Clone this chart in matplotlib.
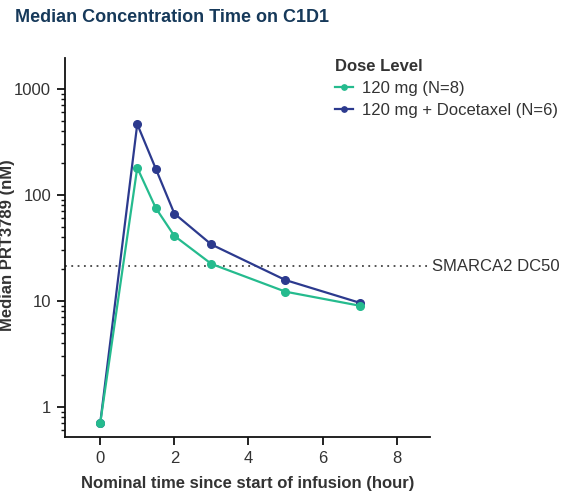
import matplotlib
matplotlib.use("Agg")
import matplotlib.pyplot as plt
from matplotlib.ticker import LogLocator, FixedLocator, NullFormatter

plt.rcParams['font.family'] = ['Liberation Sans', 'DejaVu Sans']

time_mono = [0, 1, 1.5, 2, 3, 5, 7]
conc_mono = [0.7, 180, 75, 41, 22.3, 12.2, 9.0]
time_combo = [0, 1, 1.5, 2, 3, 5, 7]
conc_combo = [0.7, 464, 176, 66.6, 34, 15.7, 9.6]
dc50 = 21.1
labels = ["120 mg (N=8)", "120 mg + Docetaxel (N=6)"]
x_ticks = [0, 2, 4, 6, 8]
y_ticks = [1, 10, 100, 1000]

green = "#25bb8e"
blue = "#2c3a8e"
txt = "#333333"

fig = plt.figure(figsize=(5.61, 4.92), dpi=100)
ax = fig.add_axes([65/561, 1-437/492, (430-65)/561, (437-58)/492])

ax.plot(time_combo, conc_combo, '-o', color=blue, lw=1.6, ms=5.5, label=labels[1], zorder=3)
ax.plot(time_mono, conc_mono, '-o', color=green, lw=1.6, ms=5.5, label=labels[0], zorder=4)
ax.axhline(dc50, color="#444444", ls=(0, (1, 2.5)), lw=1.3, zorder=1)
ax.text(1.005, dc50, "SMARCA2 DC50", transform=ax.get_yaxis_transform(),
        va='center', ha='left', fontsize=12, color=txt, clip_on=False)

ax.set_yscale('log')
ax.set_xlim(-0.95, 8.9)
ax.set_ylim(0.52, 1950)
ax.yaxis.set_major_locator(FixedLocator(y_ticks))
ax.set_yticklabels([str(v) for v in y_ticks])
ax.yaxis.set_minor_locator(LogLocator(base=10, subs=range(2, 10)))
ax.yaxis.set_minor_formatter(NullFormatter())
ax.set_xticks(x_ticks)
ax.set_xticklabels([str(v) for v in x_ticks])

for s in ['top', 'right']:
    ax.spines[s].set_visible(False)
for s in ['left', 'bottom']:
    ax.spines[s].set_linewidth(1.3)
    ax.spines[s].set_color('#111111')
ax.tick_params(axis='both', which='major', length=6, width=1.3, labelsize=12, labelcolor=txt,
               color='#111111', pad=4)
ax.tick_params(axis='y', which='minor', length=3, width=1.0, color='#111111')

ax.set_xlabel("Nominal time since start of infusion (hour)", fontsize=12, fontweight='bold',
              color=txt, labelpad=7)
fig.text(8/561, 1-245/492, "Median PRT3789 (nM)", rotation=90, ha='center', va='center',
         fontsize=12, fontweight='bold', color=txt)

h, l = ax.get_legend_handles_labels()
leg = ax.legend(h[::-1], l[::-1], title="Dose Level", loc='upper left', bbox_to_anchor=(0.74, 0.998),
                frameon=False, fontsize=12, handlelength=1.1, handletextpad=0.5,
                borderaxespad=0, labelspacing=0.42, markerscale=0.7, alignment='left',
                borderpad=0)
leg.get_title().set_fontweight('bold')
leg.get_title().set_fontsize(12)
leg.get_title().set_color(txt)
for t in leg.get_texts():
    t.set_color(txt)

fig.text(15/561, 1-18/492, "Median Concentration Time on C1D1", fontsize=13, fontweight='bold',
         color="#16395a", ha='left', va='center')

fig.savefig("out.png", dpi=100)
